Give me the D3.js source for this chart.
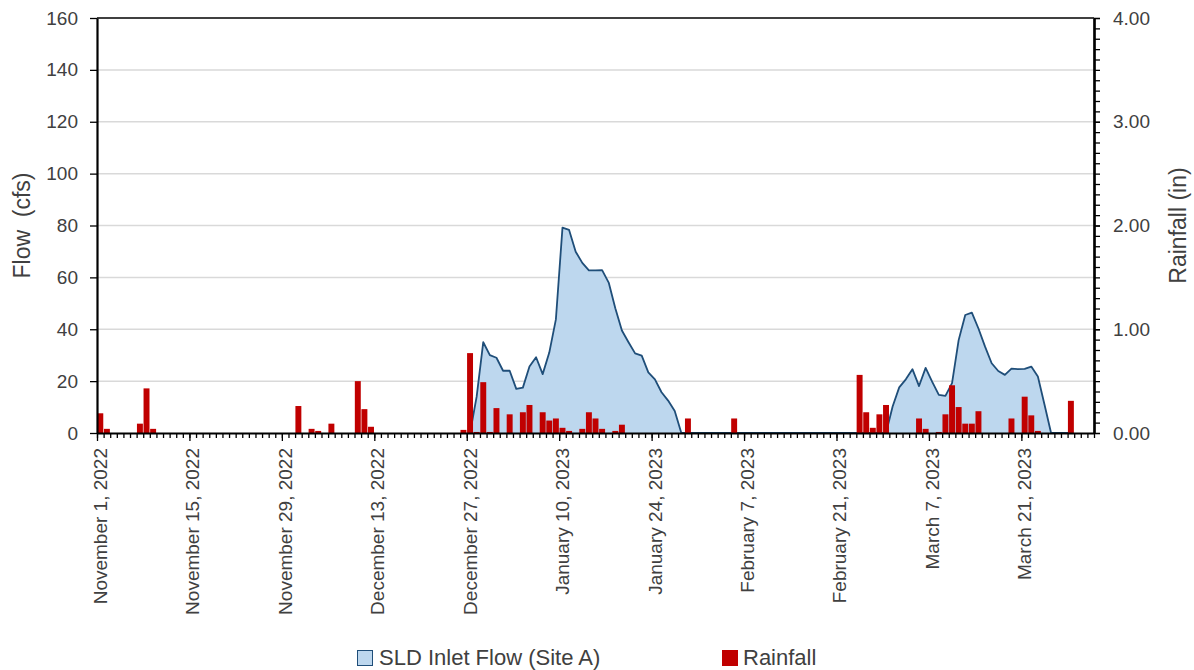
<!DOCTYPE html>
<html>
<head>
<meta charset="utf-8">
<script src="https://cdn.jsdelivr.net/npm/d3@7"></script>
<style>
  body { margin: 0; background: #fff; }
  text { font-family: "Liberation Sans", Arial, sans-serif; fill: #404040; }
</style>
</head>
<body>
<div id="chart"></div>
<script>
// date range of the category axis (one band per day)
const firstDay = "2022-11-01";
const endDay = "2023-04-01"; // exclusive

// labelled major ticks
const labelDays = ["2022-11-01", "2022-11-15", "2022-11-29", "2022-12-13", "2022-12-27",
  "2023-01-10", "2023-01-24", "2023-02-07", "2023-02-21", "2023-03-07", "2023-03-21"];

// daily flow (cfs), starting at flowStart
const flowStart = "2022-12-27";
const flowCfs = [
  0, 14, 35, 30, 29, 24, 24, 17, 17.5, 25.6, 29.2, 22.7, 31, 43.8, 79.2, 78.3,
  69.9, 65.6, 62.7, 62.7, 62.8, 58, 48.1, 39.5, 35, 30.7, 29.8, 23.4, 20.7, 15.7,
  12.5, 8.5, 0,
  0, 0, 0, 0, 0, 0, 0, 0, 0, 0, 0, 0, 0, 0, 0, 0, 0, 0, 0, 0, 0, 0, 0, 0, 0, 0, 0, 0, 0, 0, 0,
  10.2, 17.6, 20.7, 24.6, 18.1, 25.1, 19.7, 14.7, 14.3, 19.2, 35.8, 45.5, 46.4, 40.3,
  33.3, 26.9, 23.9, 22.4, 24.8, 24.6, 24.7, 25.6, 21.8, 11, 0, 0, 0, 0
];

// daily rainfall (in), days with rain only
const rainDays = [
  "2022-11-01", "2022-11-02", "2022-11-07", "2022-11-08", "2022-11-09",
  "2022-12-01", "2022-12-03", "2022-12-04", "2022-12-06", "2022-12-10", "2022-12-11", "2022-12-12",
  "2022-12-26", "2022-12-27", "2022-12-28", "2022-12-29", "2022-12-30", "2022-12-31",
  "2023-01-02", "2023-01-04", "2023-01-05", "2023-01-07", "2023-01-08", "2023-01-09",
  "2023-01-10", "2023-01-11", "2023-01-13", "2023-01-14", "2023-01-15", "2023-01-16",
  "2023-01-18", "2023-01-19", "2023-01-29", "2023-02-05",
  "2023-02-24", "2023-02-25", "2023-02-26", "2023-02-27", "2023-02-28",
  "2023-03-05", "2023-03-06", "2023-03-08", "2023-03-09", "2023-03-10", "2023-03-11",
  "2023-03-12", "2023-03-13", "2023-03-14", "2023-03-19", "2023-03-21", "2023-03-22",
  "2023-03-23", "2023-03-28"
];
const rainIn = [
  0.19, 0.04, 0.09, 0.43, 0.04,
  0.26, 0.04, 0.02, 0.09, 0.50, 0.23, 0.06,
  0.03, 0.77, 0.01, 0.49, 0.01, 0.24,
  0.18, 0.20, 0.27, 0.20, 0.12, 0.14,
  0.05, 0.02, 0.04, 0.20, 0.14, 0.04,
  0.02, 0.08, 0.14, 0.14,
  0.56, 0.20, 0.05, 0.18, 0.27,
  0.14, 0.04, 0.01, 0.18, 0.46, 0.25,
  0.09, 0.09, 0.21, 0.14, 0.35, 0.17,
  0.02, 0.31
];

const flowTicks = [0, 20, 40, 60, 80, 100, 120, 140, 160];
const rainTicks = [0, 1, 2, 3, 4];

const parse = d3.timeParse("%Y-%m-%d");
const fmt = d3.timeFormat("%B %-d, %Y");

const margin = {top: 18, right: 100, bottom: 237, left: 97},
    width = 1194 - margin.left - margin.right,
    height = 670 - margin.top - margin.bottom;

const svg = d3.select("#chart")
  .append("svg")
    .attr("width", 1194)
    .attr("height", 670)
  .append("g")
    .attr("transform", `translate(${margin.left},${margin.top})`);

const x = d3.scaleTime()
  .domain([parse(firstDay), parse(endDay)])
  .range([0, width]);
const dayW = x(d3.timeDay.offset(parse(firstDay), 1)) - x(parse(firstDay));

const yL = d3.scaleLinear().domain([0, 160]).range([height, 0]);
const yR = d3.scaleLinear().domain([0, 4]).range([height, 0]);

// gridlines
svg.append("g")
  .selectAll("line")
  .data(flowTicks.filter(d => d > 0 && d < 160))
  .join("line")
    .attr("x1", 0).attr("x2", width)
    .attr("y1", d => yL(d)).attr("y2", d => yL(d))
    .attr("stroke", "#d9d9d9")
    .attr("stroke-width", 1.5);

// flow area + line
const flow = flowCfs.map((v, i) => ({date: d3.timeDay.offset(parse(flowStart), i), value: v}));
const cx = d => x(d.date) + dayW / 2;

svg.append("path")
  .datum(flow)
  .attr("fill", "#bdd7ee")
  .attr("d", d3.area().x(cx).y0(yL(0)).y1(d => yL(d.value)));

svg.append("path")
  .datum(flow)
  .attr("fill", "none")
  .attr("stroke", "#1f4e79")
  .attr("stroke-width", 1.8)
  .attr("stroke-linejoin", "round")
  .attr("d", d3.line().x(cx).y(d => yL(d.value)));

// rainfall bars
const rain = rainDays.map((d, i) => ({date: parse(d), value: rainIn[i]}));
svg.append("g")
  .selectAll("rect")
  .data(rain)
  .join("rect")
    .attr("x", d => x(d.date) + dayW * 0.05)
    .attr("width", dayW * 0.9)
    .attr("y", d => yR(d.value))
    .attr("height", d => yR(0) - yR(d.value))
    .attr("fill", "#c00000");

// top border
svg.append("line")
  .attr("x1", 0).attr("x2", width)
  .attr("y1", 0).attr("y2", 0)
  .attr("stroke", "#000").attr("stroke-width", 1.5);

// left axis
const axL = svg.append("g")
  .call(d3.axisLeft(yL).tickValues(flowTicks).tickSize(7).tickSizeOuter(0).tickPadding(12));
axL.selectAll("text").style("font-size", "19px");

// right axis with minor ticks
svg.append("g")
  .attr("transform", `translate(${width},0)`)
  .call(d3.axisRight(yR).tickValues(d3.range(0, 41).map(d => d / 10)).tickSize(6).tickSizeOuter(0).tickFormat(""));
const axR = svg.append("g")
  .attr("transform", `translate(${width},0)`)
  .call(d3.axisRight(yR).tickValues(rainTicks).tickSize(6).tickSizeOuter(0).tickPadding(13).tickFormat(d3.format(".2f")));
axR.selectAll("text").style("font-size", "19px");

// bottom axis: day ticks and 14-day major ticks
svg.append("g")
  .attr("transform", `translate(0,${height})`)
  .call(d3.axisBottom(x).ticks(d3.timeDay.every(1)).tickSize(5).tickSizeOuter(0).tickFormat(""));
svg.append("g")
  .attr("transform", `translate(0,${height})`)
  .call(d3.axisBottom(x).tickValues(labelDays.map(parse)).tickSize(8).tickSizeOuter(0).tickFormat(""))
  .select(".domain").remove();

svg.selectAll(".domain, .tick line").attr("stroke", "#000");
svg.selectAll(".domain").attr("stroke-width", 2.2);
svg.selectAll(".tick line").attr("stroke-width", 1.3);

// rotated date labels at band centres
svg.append("g")
  .selectAll("text")
  .data(labelDays.map(parse))
  .join("text")
    .attr("transform", d => `translate(${x(d) + dayW / 2},${height + 15}) rotate(-90)`)
    .attr("text-anchor", "end")
    .attr("dy", "0.35em")
    .style("font-size", "19px")
    .text(d => fmt(d));

// axis titles
svg.append("text")
  .attr("transform", `translate(${22 - margin.left},${height / 2}) rotate(-90)`)
  .attr("text-anchor", "middle")
  .attr("dy", "0.35em")
  .style("font-size", "23px")
  .style("white-space", "pre")
  .text("Flow  (cfs)");

svg.append("text")
  .attr("transform", `translate(${1178 - margin.left},${height / 2}) rotate(-90)`)
  .attr("text-anchor", "middle")
  .attr("dy", "0.35em")
  .style("font-size", "23px")
  .text("Rainfall (in)");

// legend
const legend = svg.append("g").attr("transform", `translate(${-margin.left},${-margin.top})`);
legend.append("rect")
  .attr("x", 357.5).attr("y", 650.5).attr("width", 15).attr("height", 15)
  .attr("fill", "#bdd7ee").attr("stroke", "#1f4e79").attr("stroke-width", 1);
legend.append("text")
  .attr("x", 379).attr("y", 665)
  .style("font-size", "22px")
  .text("SLD Inlet Flow (Site A)");
legend.append("rect")
  .attr("x", 722).attr("y", 650).attr("width", 16).attr("height", 16)
  .attr("fill", "#c00000");
legend.append("text")
  .attr("x", 743).attr("y", 665)
  .style("font-size", "22px")
  .text("Rainfall");
</script>
</body>
</html>
